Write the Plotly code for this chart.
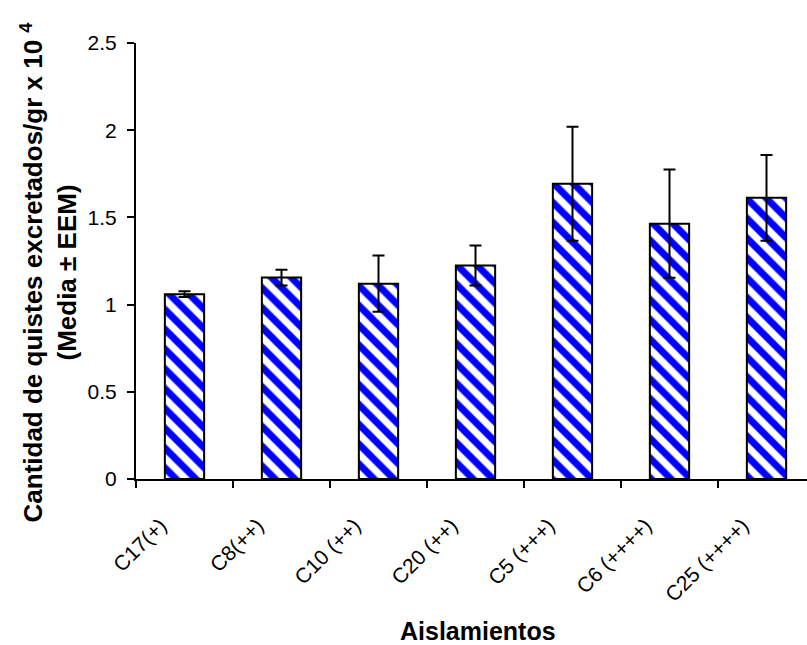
import plotly.graph_objects as go

categories = ["C17(+)", "C8(++)", "C10 (++)", "C20 (++)", "C5 (+++)", "C6 (++++)", "C25 (++++)"]
means = [1.06, 1.155, 1.12, 1.224, 1.693, 1.464, 1.612]
errors = [0.017, 0.045, 0.161, 0.115, 0.327, 0.31, 0.246]
y_ticks = [0, 0.5, 1, 1.5, 2, 2.5]
y_tick_text = ["0", "0.5", "1", "1.5", "2", "2.5"]

xpos = list(range(len(categories)))
boundaries = [i - 0.5 for i in range(len(categories))]

FONT = "Liberation Sans, Arial, sans-serif"

fig = go.Figure()
fig.add_trace(go.Bar(
    x=xpos, y=means, width=0.405,
    marker=dict(
        color="white",
        line=dict(color="black", width=2),
        pattern=dict(shape="\\", fgcolor="#0000ff", bgcolor="white", fgopacity=1,
                     size=14, solidity=0.5),
    ),
    error_y=dict(type="data", array=errors, visible=True, color="black", thickness=2, width=6),
    showlegend=False,
))

fig.update_layout(
    width=807, height=645,
    margin=dict(l=136, r=0, t=43, b=166, autoexpand=False),
    paper_bgcolor="white", plot_bgcolor="white",
    font=dict(family=FONT, color="black", size=21),
    xaxis=dict(
        range=[-0.5, -0.5 + 671 / 97.0],
        tickmode="array", tickvals=xpos, ticktext=categories,
        ticks="", tickangle=-45, ticklabelstandoff=24, ticklabelshift=-24,
        tickfont=dict(size=21, family=FONT),
        showline=True, linecolor="black", linewidth=2,
        showgrid=False, zeroline=False,
        minor=dict(tickmode="array", tickvals=boundaries, ticks="outside",
                   ticklen=7, tickwidth=1.8, tickcolor="black", showgrid=False),
    ),
    yaxis=dict(
        range=[0, 2.5],
        tickmode="array", tickvals=y_ticks, ticktext=y_tick_text,
        ticks="outside", ticklen=7, tickwidth=1.8, tickcolor="black",
        ticklabelstandoff=6,
        tickfont=dict(size=21, family=FONT),
        showline=True, linecolor="black", linewidth=2,
        showgrid=False, zeroline=False,
    ),
    annotations=[
        dict(text="<b>Cantidad de quistes excretados/gr x 10 <sup>4</sup></b><br><b>(Media ± EEM)</b>",
             xref="paper", yref="paper", x=(49 - 136) / 671, y=(479 - 272) / 437,
             xanchor="center", yanchor="middle", textangle=-90, showarrow=False,
             align="center", font=dict(size=26, family=FONT)),
        dict(text="<b>Aislamientos</b>",
             xref="paper", yref="paper", x=(477.5 - 136) / 671, y=(479 - 631) / 437,
             xanchor="center", yanchor="middle", showarrow=False,
             font=dict(size=25, family=FONT)),
    ],
)

fig.write_html("out.html")
